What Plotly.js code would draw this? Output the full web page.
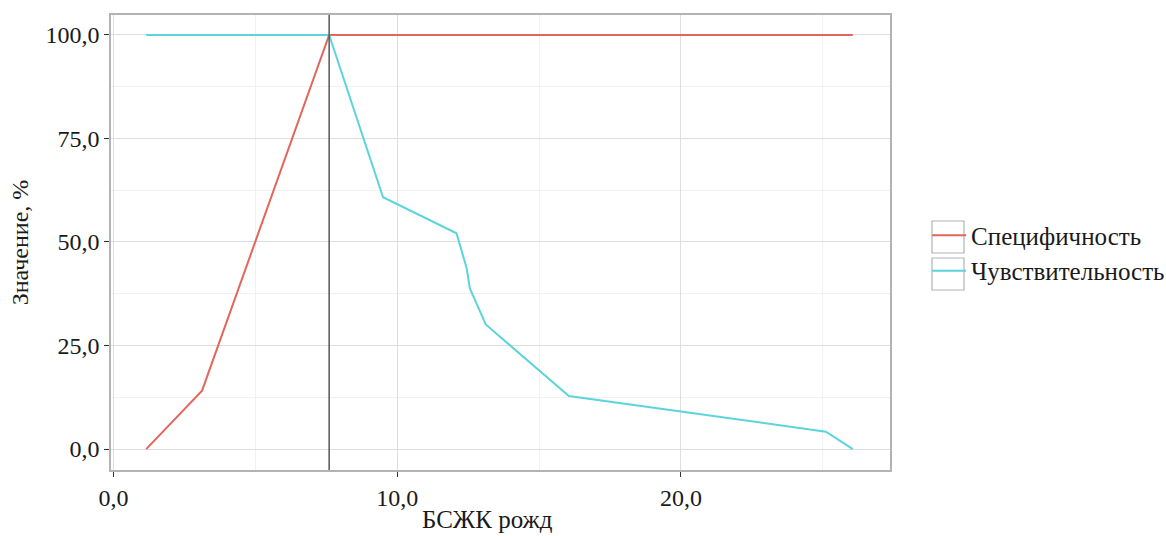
<!DOCTYPE html>
<html><head><meta charset="utf-8">
<script src="https://cdn.plot.ly/plotly-3.0.1.min.js"></script>
<style>body{margin:0;background:#fff}#c{width:1166px;height:536px}</style>
</head><body><div id="c"></div>
<script>
const specX = [1.15, 3.12, 7.6, 26.06];
const specY = [0, 14.1, 100, 100];
const sensX = [1.15, 7.6, 9.5, 12.09, 12.45, 12.56, 13.12, 16.05, 25.11, 26.06];
const sensY = [100, 100, 60.8, 52.1, 43.6, 38.8, 30.1, 12.8, 4.2, 0];
const cutoff = 7.6;
const names = ['Специфичность', 'Чувствительность'];
const xTitle = 'БСЖК рожд';
const yTitle = 'Значение, %';
const xTicks = [0, 10, 20];
const yTicks = [0, 25, 50, 75, 100];

const font = {family: 'Liberation Serif, serif', size: 24, color: '#1a1a1a'};
const bigFont = {family: 'Liberation Serif, serif', size: 25, color: '#1a1a1a'};
const traces = [
  {x: specX, y: specY, mode: 'lines', name: names[0], legendgroup: 'a', line: {color: '#e2665c', width: 2}},
  {x: sensX, y: sensY, mode: 'lines', name: names[1], legendgroup: 'b', line: {color: '#5dd4dc', width: 2}}
];
const axisCommon = {
  showline: true, mirror: true, linecolor: '#b3b3b3', linewidth: 1.5,
  ticks: 'outside', ticklen: 5, tickcolor: '#333', tickwidth: 1.2,
  gridcolor: '#dedede', gridwidth: 1, zeroline: false,
  tickformat: '.1f', tickfont: font
};
function box(y0, y1) {
  return {type: 'rect', xref: 'paper', yref: 'paper', x0: 1.0539, x1: 1.095, y0: y0, y1: y1,
          line: {color: '#b3b3b3', width: 1.2}, fillcolor: 'rgba(0,0,0,0)'};
}
const layout = {
  width: 1166, height: 536,
  margin: {l: 111, r: 276, t: 15, b: 66, autoexpand: false},
  paper_bgcolor: '#fff', plot_bgcolor: '#fff',
  separators: ', ',
  font: font,
  xaxis: Object.assign({}, axisCommon, {
    range: [-0.09, 27.37], tickvals: xTicks,
    minor: {dtick: 5, tick0: 0, showgrid: true, gridcolor: '#f1f1f1', ticks: ''}
  }),
  yaxis: Object.assign({}, axisCommon, {
    range: [-5.05, 104.8], tickvals: yTicks,
    minor: {dtick: 12.5, tick0: 0, showgrid: true, gridcolor: '#f1f1f1', ticks: ''},
    title: {text: yTitle, font: font, standoff: 10}
  }),
  annotations: [
    {text: xTitle, xref: 'paper', yref: 'paper', x: 0.4827, y: -0.1077,
     xanchor: 'center', yanchor: 'middle', showarrow: false, font: bigFont}
  ],
  showlegend: true,
  legend: {x: 1.0476, y: 0.477, yanchor: 'middle', xanchor: 'left', font: bigFont,
           itemwidth: 34, tracegroupgap: 0, bgcolor: 'rgba(0,0,0,0)'},
  shapes: [
    {type: 'line', xref: 'x', yref: 'paper', x0: cutoff, x1: cutoff, y0: 0, y1: 1,
     line: {color: '#555', width: 1.5}},
    box(0.4769, 0.5473),
    box(0.3956, 0.4659)
  ]
};
Plotly.newPlot('c', traces, layout, {displayModeBar: false});
</script></body></html>
